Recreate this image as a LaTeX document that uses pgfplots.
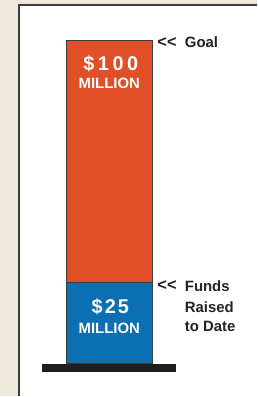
\documentclass[border=0pt]{standalone}
\usepackage{pgfplots}
\pgfplotsset{compat=1.18}
\usepackage{fontspec}
\setmainfont{Liberation Sans}
\definecolor{beige}{RGB}{239,233,219}
\definecolor{goalorange}{RGB}{224,79,40}
\definecolor{fundblue}{RGB}{11,111,177}
\definecolor{edgegray}{RGB}{60,60,60}
\definecolor{basek}{RGB}{30,30,30}
\definecolor{txt}{RGB}{35,35,35}
\tikzset{outside/.style={inner sep=0pt, text=txt, font=\bfseries\fontsize{15}{16}\selectfont},
  chev/.style={inner sep=0pt, text=txt, font=\bfseries\fontsize{16.5}{17}\selectfont}}
\pgfdeclarelayer{bg}
\pgfsetlayers{bg,main}
\begin{document}
\begin{tikzpicture}
\begin{axis}[
  name=ax,
  scale only axis, width=257bp, height=397bp,
  xmin=0, xmax=257, ymin=-10.185, ymax=112.346,
  hide axis, clip=false,
  ybar stacked, bar width=87bp,
]
\addplot[fill=fundblue, draw=edgegray, line width=0.7bp] coordinates {(109.5,25)};
\addplot[fill=goalorange, draw=edgegray, line width=0.7bp] coordinates {(109.5,75)};
\coordinate (a1) at (axis cs:109.5,90.7);
\coordinate (a2) at (axis cs:109.5,84.9);
\coordinate (b1) at (axis cs:109.5,15.4);
\coordinate (b2) at (axis cs:109.5,9.3);
\node[chev, anchor=base west] at (axis cs:157.5,97.7) {<\kern0.2bp<};
\node[outside, anchor=base west] at (axis cs:185,97.53) {Goal};
\node[chev, anchor=base west] at (axis cs:157.5,22.4) {<\kern0.2bp<};
\node[outside, anchor=base west] at (axis cs:185,22.22) {Funds};
\node[outside, anchor=base west] at (axis cs:185,15.74) {Raised};
\node[outside, anchor=base west] at (axis cs:185,9.88) {to Date};
\end{axis}
\node[anchor=base, text=white, font=\bfseries\fontsize{20}{21}\selectfont\addfontfeature{LetterSpace=18}] at ([xshift=1.5bp]a1) {\$100};
\node[anchor=base, text=white, font=\bfseries\fontsize{15}{16}\selectfont] at (a2) {MILLION};
\node[anchor=base, text=white, font=\bfseries\fontsize{20}{21}\selectfont\addfontfeature{LetterSpace=10}] at ([xshift=1bp]b1) {\$25};
\node[anchor=base, text=white, font=\bfseries\fontsize{15}{16}\selectfont] at (b2) {MILLION};
\begin{pgfonlayer}{bg}
\begin{scope}[shift={(ax.south west)}, x=1bp, y=1bp]
\fill[beige] (0,0) rectangle (257,397);
\fill[white] (19,0) rectangle (257,392);
\draw[edgegray,line width=1.3bp] (19,0) -- (19,392) -- (257,392);
\fill[basek] (42,24) rectangle (176,32);
\end{scope}
\end{pgfonlayer}
\end{tikzpicture}
\end{document}
